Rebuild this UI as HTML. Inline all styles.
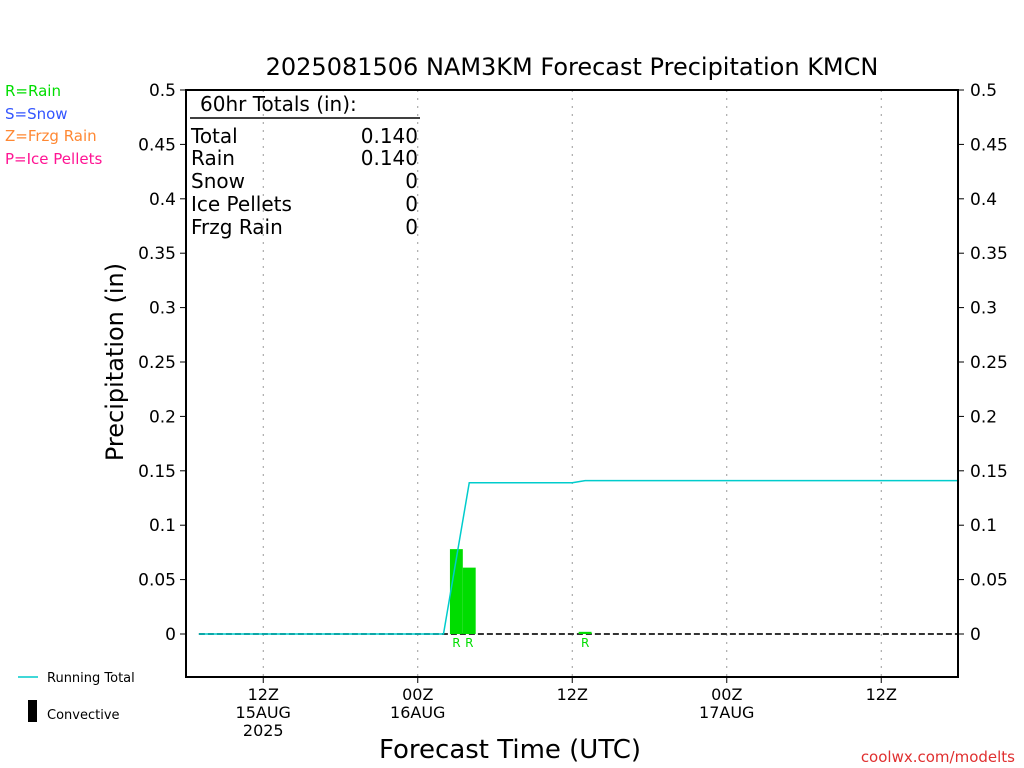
<!DOCTYPE html>
<html><head><meta charset="utf-8"><style>
body{margin:0;background:#fff;}
svg{display:block;font-family:"DejaVu Sans","Liberation Sans",sans-serif;}
</style></head><body>
<svg id="chart" width="1024" height="768">
<text x="572" y="75" text-anchor="middle" font-size="24" fill="#000">2025081506 NAM3KM Forecast Precipitation KMCN</text>
<g font-size="15">
<text x="5" y="96" fill="#00dd00">R=Rain</text>
<text x="5" y="119" fill="#3355ff">S=Snow</text>
<text x="5" y="141" fill="#ff8833">Z=Frzg Rain</text>
<text x="5" y="164" fill="#ff1493">P=Ice Pellets</text>
</g>
<g id="grid"></g>
<g id="marks"></g>
<rect x="186" y="90" width="772" height="587" fill="none" stroke="#000" stroke-width="2"/>
<g font-size="20" fill="#000">
<text x="200" y="111">60hr Totals (in):</text>
<line x1="190" y1="118" x2="420" y2="118" stroke="#000" stroke-width="1.5"/>
<text x="191" y="143">Total</text><text x="418" y="143" text-anchor="end">0.140</text>
<text x="191" y="165">Rain</text><text x="418" y="165" text-anchor="end">0.140</text>
<text x="191" y="188">Snow</text><text x="418" y="188" text-anchor="end">0</text>
<text x="191" y="211">Ice Pellets</text><text x="418" y="211" text-anchor="end">0</text>
<text x="191" y="234">Frzg Rain</text><text x="418" y="234" text-anchor="end">0</text>
</g>
<text transform="translate(123,362) rotate(-90)" text-anchor="middle" font-size="24">Precipitation (in)</text>
<text x="510" y="758" text-anchor="middle" font-size="26">Forecast Time (UTC)</text>
<text x="1015" y="762" text-anchor="end" font-size="15" fill="#e03030">coolwx.com/modelts</text>
<line x1="18" y1="677" x2="38" y2="677" stroke="#00cccc" stroke-width="1.5"/>
<text x="47" y="682" font-size="13">Running Total</text>
<rect x="28" y="700" width="9" height="22" fill="#000"/>
<text x="47" y="719" font-size="13">Convective</text>
</svg>
<script>
const yTicks=[0,0.05,0.1,0.15,0.2,0.25,0.3,0.35,0.4,0.45,0.5];
const xTickHours=[6,18,30,42,54];
const xTickLabels=[["12Z","15AUG","2025"],["00Z","16AUG"],["12Z"],["00Z","17AUG"],["12Z"]];
const barHours=[21,22,31];
const barValues=[0.078,0.061,0.002];
const barLabels=["R","R","R"];
const totalHours=[1,20,22,30,31,60];
const totalValues=[0,0,0.139,0.139,0.141,0.141];
const X0=186,PX_H=12.875,Y0=634,PX_V=1088;
const xs=h=>X0+h*PX_H, ys=v=>Y0-v*PX_V;
const NS="http://www.w3.org/2000/svg";
const grid=document.getElementById('grid'),marks=document.getElementById('marks'),svg=document.getElementById('chart');
function mk(t,a,p){const e=document.createElementNS(NS,t);for(const k in a)e.setAttribute(k,a[k]);p.appendChild(e);return e;}
yTicks.forEach((v,i)=>{const y=ys(v);
 let l=mk('line',{x1:180,x2:186,y1:y,y2:y,stroke:'#000'},svg);
 
 
 let r=mk('line',{x1:958,x2:964,y1:y,y2:y,stroke:'#000'},svg);
 
 
 let t=mk('text',{x:176,y:y+6,'text-anchor':'end','font-size':17},svg);t.textContent=String(v);
 
 
 let t2=mk('text',{x:970,y:y+6,'font-size':17},svg);t2.textContent=String(v);
 
 
});
xTickHours.forEach((h,i)=>{const x=xs(h);
 let g=mk('line',{x1:x,x2:x,y1:90,y2:677,stroke:'#999','stroke-dasharray':'2,6'},grid);
 
 
 let tk=mk('line',{x1:x,x2:x,y1:677,y2:683,stroke:'#000'},svg);
 
 
 xTickLabels[i].forEach((s,j)=>{let t=mk('text',{x:x,y:700+j*18,'text-anchor':'middle','font-size':16},svg);t.textContent=s;
 
 });
});
let zl=mk('line',{x1:xs(1),x2:958,y1:Y0,y2:Y0,stroke:'#333','stroke-width':2,'stroke-dasharray':'6,3'},marks);


barHours.forEach((h,i)=>{const x1=xs(h-0.5),x2=xs(h+0.5),y=ys(barValues[i]);
 let b=mk('rect',{x:x1,y:y,width:x2-x1,height:Y0-y,fill:'#00dd00'},marks);
 
 
 let t=mk('text',{x:(x1+x2)/2,y:647,'text-anchor':'middle','font-size':12,fill:'#00dd00'},marks);t.textContent=barLabels[i];
 
 
});
let pl=mk('polyline',{points:totalHours.map((h,i)=>xs(h)+','+ys(totalValues[i])).join(' '),fill:'none',stroke:'#00cccc','stroke-width':1.5},marks);


</script>
</body></html>
